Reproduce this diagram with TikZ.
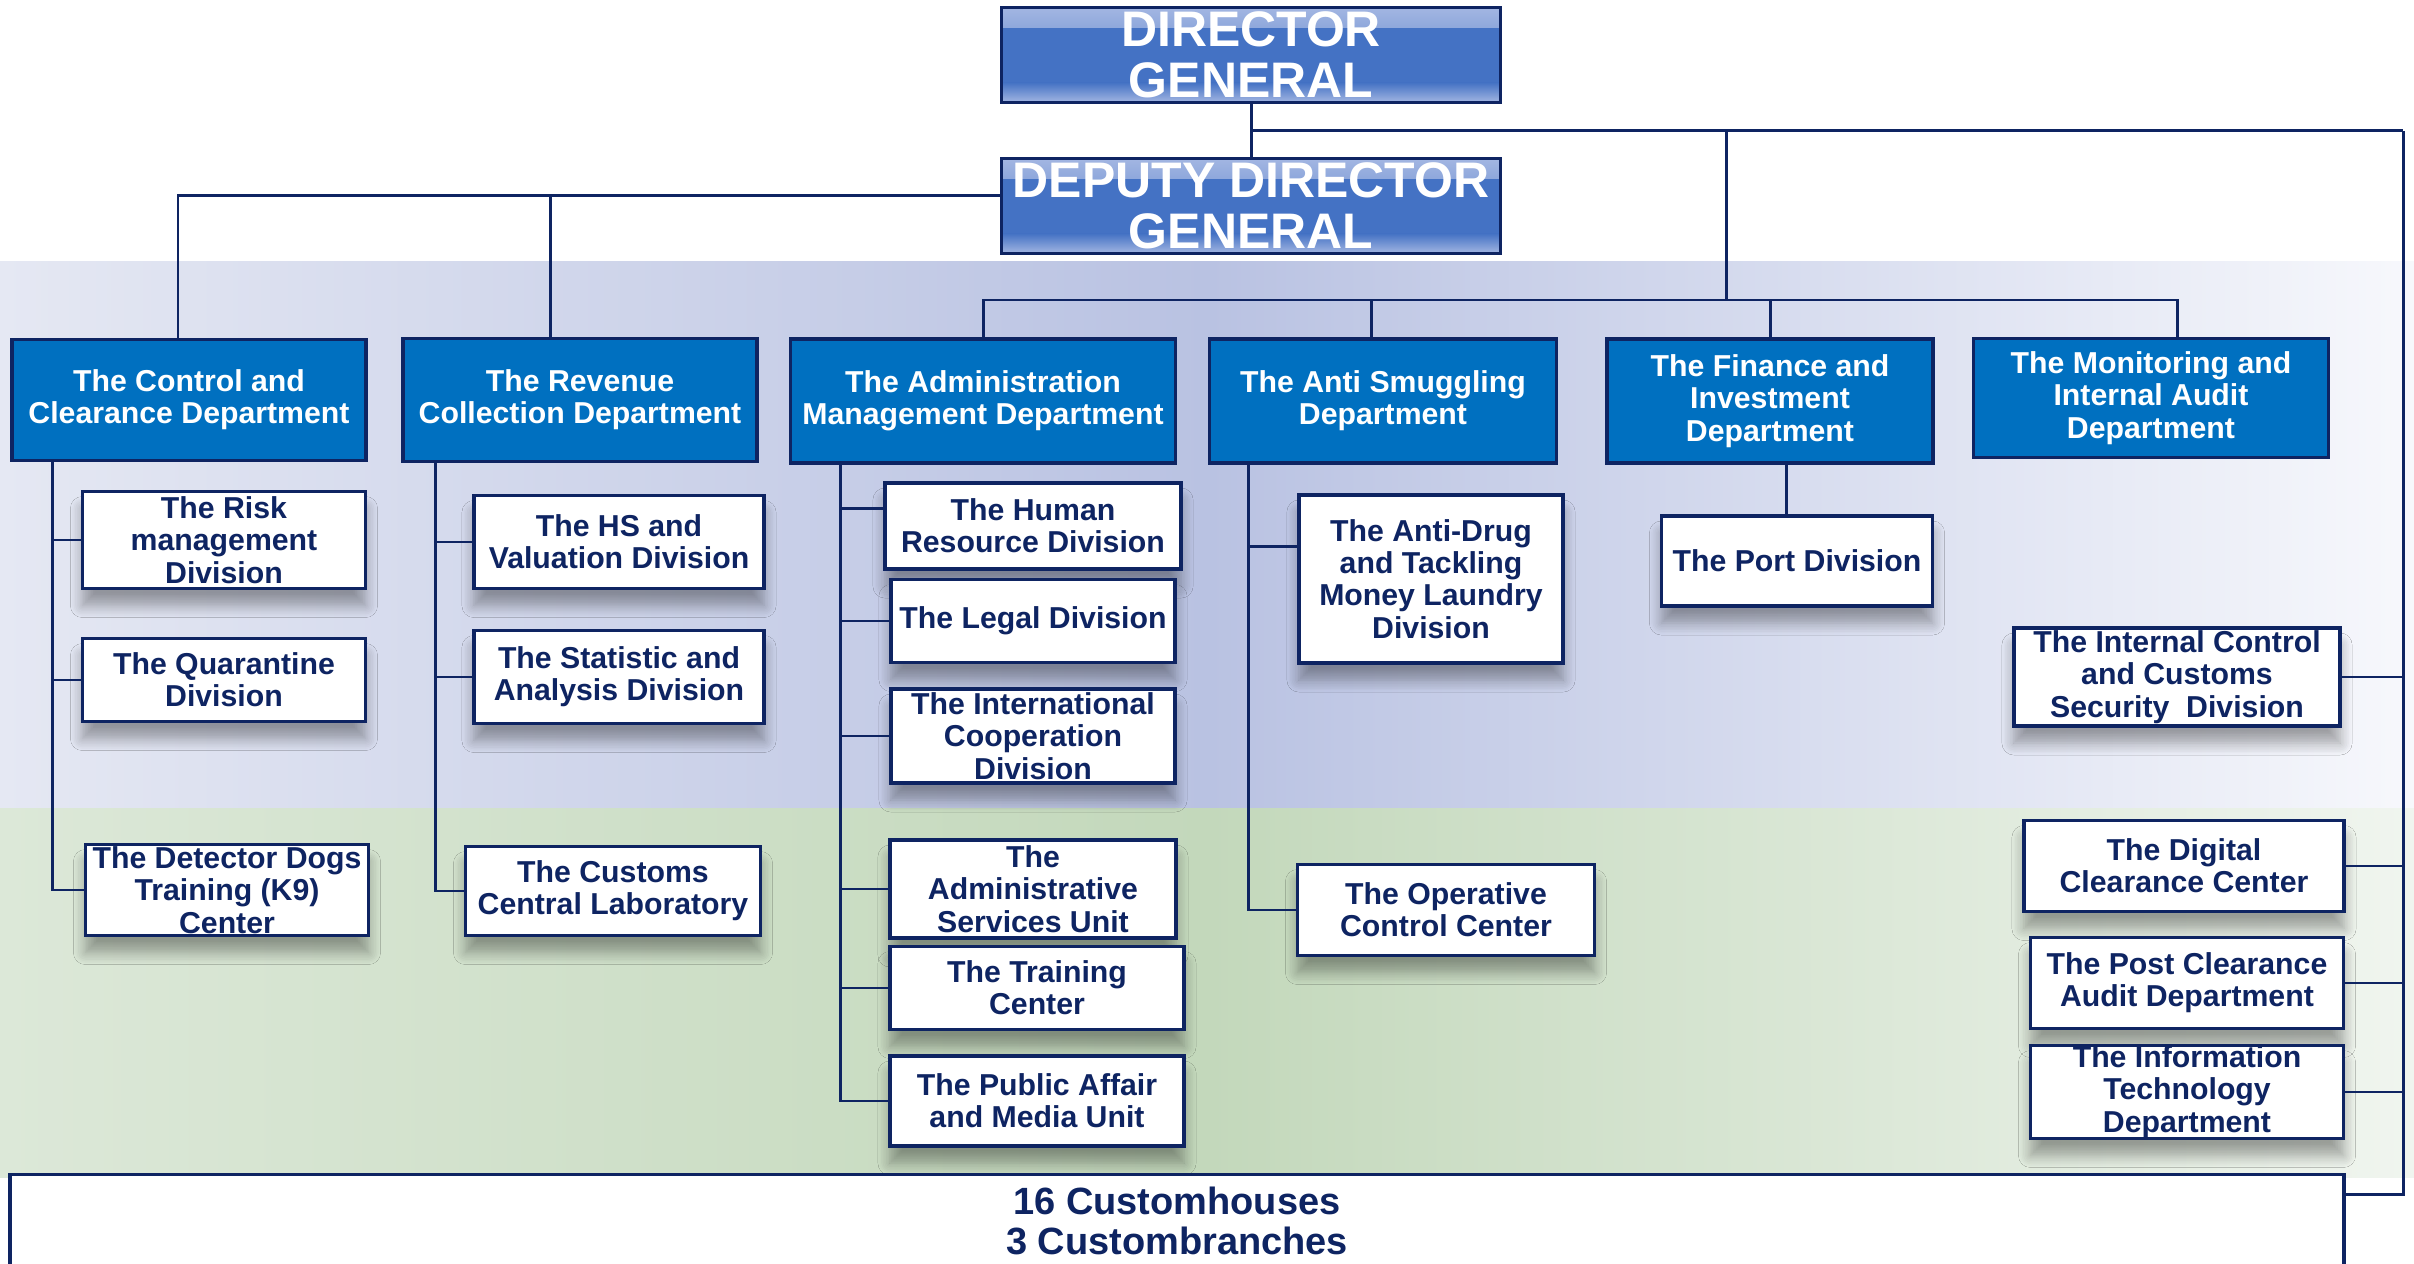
\documentclass[tikz,border=0pt]{standalone}
\usepackage{fontspec}
\setmainfont{Liberation Sans}
\usepackage{tikz}
\usetikzlibrary{shadows.blur}

\definecolor{navy}{HTML}{0E2462}
\definecolor{deptblue}{HTML}{0070C0}
\definecolor{headblue}{HTML}{4472C4}
\definecolor{headedge}{HTML}{A3B6E2}
\definecolor{bandblue}{HTML}{B9C2E2}
\definecolor{bandleft}{HTML}{E5E8F3}
\definecolor{bandright}{HTML}{F7F8FC}
\definecolor{bandgreen}{HTML}{C3D8BB}
\definecolor{greenleft}{HTML}{DCE8D8}
\definecolor{greenright}{HTML}{F0F5EF}

\begin{document}
\begin{tikzpicture}[x=0.01cm, y=-0.01cm,
    link/.style={draw=navy, line width=0.85pt},
    headbox/.style={draw=navy, line width=0.9pt, fill=headblue, text=white,
      font=\fontsize{14.2}{14.6}\selectfont\bfseries, align=center, inner sep=0pt,
      path picture={
        \shade[top color=headedge, bottom color=headblue] (path picture bounding box.north west) rectangle ([yshift=-0.2cm]path picture bounding box.north east);
        \shade[top color=headblue, bottom color=headedge] ([yshift=0.2cm]path picture bounding box.south west) rectangle (path picture bounding box.south east);
      }},
    deptbox/.style={draw=navy, line width=1pt, fill=deptblue, text=white,
      font=\fontsize{8.6}{9.2}\selectfont\bfseries, align=center, inner xsep=1pt, inner ysep=0pt},
    unitbox/.style={draw=navy, line width=1pt, fill=white, text=navy,
      font=\fontsize{8.6}{9.2}\selectfont\bfseries, align=center, inner xsep=1pt, inner ysep=0pt,
      blur shadow={shadow xshift=0pt, shadow yshift=-0.17cm, shadow blur radius=0.12cm, shadow blur steps=8, shadow opacity=35}}]

   \useasboundingbox (0,0) rectangle (2414,1264);

   % background bands
   \shade[left color=bandleft, right color=bandright, middle color=bandblue] (0,262) rectangle (2414,808);
   \shade[left color=greenleft, right color=greenright, middle color=bandgreen] (0,808) rectangle (2414,1177);

   % top
   \draw (1251,55) node[headbox, minimum width=4.98cm, minimum height=0.95cm] (dg) {DIRECTOR\\GENERAL};
   \draw (1251,206) node[headbox, minimum width=4.98cm, minimum height=0.95cm] (ddg) {DEPUTY DIRECTOR\\GENERAL};

   % departments
   \draw (189,400) node[deptbox, minimum width=3.54cm, minimum height=1.21cm] (control) {The Control and\\Clearance Department};
   \draw (580,400) node[deptbox, minimum width=3.54cm, minimum height=1.23cm] (revenue) {The Revenue\\Collection Department};
   \draw (983,401) node[deptbox, minimum width=3.85cm, minimum height=1.24cm] (admin) {The Administration\\Management Department};
   \draw (1383,401) node[deptbox, minimum width=3.47cm, minimum height=1.24cm] (antismug) {The Anti Smuggling\\Department};
   \draw (1770,401) node[deptbox, minimum width=3.26cm, minimum height=1.24cm] (finance) {The Finance and\\Investment\\Department};
   \draw (2151,398) node[deptbox, minimum width=3.55cm, minimum height=1.19cm] (monitor) {The Monitoring and\\Internal Audit\\Department};

   % divisions and units
   \draw (224,540) node[unitbox, minimum width=2.83cm, minimum height=0.97cm] (risk) {The Risk\\management\\Division};
   \draw (224,680) node[unitbox, minimum width=2.83cm, minimum height=0.83cm] (quarantine) {The Quarantine\\Division};
   \draw (227,890) node[unitbox, minimum width=2.83cm, minimum height=0.91cm] (dogs) {The Detector Dogs\\Training (K9)\\Center};

   \draw (619,542) node[unitbox, minimum width=2.90cm, minimum height=0.93cm] (hsval) {The HS and\\Valuation Division};
   \draw (619,677) node[unitbox, minimum width=2.90cm, minimum height=0.93cm] (statistic) {The Statistic and\\Analysis Division};
   \draw (613,891) node[unitbox, minimum width=2.95cm, minimum height=0.89cm] (lab) {The Customs\\Central Laboratory};

   \draw (1033,526) node[unitbox, minimum width=2.96cm, minimum height=0.86cm] (human) {The Human\\Resource Division};
   \draw (1033,621) node[unitbox, minimum width=2.84cm, minimum height=0.83cm] (legal) {The Legal Division};
   \draw (1033,736) node[unitbox, minimum width=2.84cm, minimum height=0.94cm] (intl) {The International\\Cooperation\\Division};
   \draw (1033,889) node[unitbox, minimum width=2.86cm, minimum height=0.98cm] (services) {The\\Administrative\\Services Unit};
   \draw (1037,988) node[unitbox, minimum width=2.94cm, minimum height=0.83cm] (training) {The Training\\Center};
   \draw (1037,1101) node[unitbox, minimum width=2.94cm, minimum height=0.90cm] (media) {The Public Affair\\and Media Unit};

   \draw (1431,579) node[unitbox, minimum width=2.64cm, minimum height=1.68cm] (antidrug) {The Anti-Drug\\and Tackling\\Money Laundry\\Division};
   \draw (1446,910) node[unitbox, minimum width=2.97cm, minimum height=0.91cm] (operative) {The Operative\\Control Center};

   \draw (1797,561) node[unitbox, minimum width=2.71cm, minimum height=0.90cm] (port) {The Port Division};

   \draw (2177,677) node[unitbox, minimum width=3.26cm, minimum height=0.98cm] (internal) {The Internal Control\\and Customs\\Security\ \ Division};
   \draw (2184,866) node[unitbox, minimum width=3.20cm, minimum height=0.91cm] (digital) {The Digital\\Clearance Center};
   \draw (2187,983) node[unitbox, minimum width=3.13cm, minimum height=0.91cm] (postaudit) {The Post Clearance\\Audit Department};
   \draw (2187,1092) node[unitbox, minimum width=3.13cm, minimum height=0.91cm] (infotech) {The Information\\Technology\\Department};

   \draw (1177,1221) node[fill=white, text=navy, font=\fontsize{10.8}{11.4}\selectfont\bfseries, align=center, minimum width=23.31cm, minimum height=0.88cm] (houses) {16 Customhouses\\3 Custombranches};
   \draw[navy, line width=1pt] (houses.south west) -- (houses.north west) -- (houses.north east) -- (houses.south east);

   % buses
   \coordinate (topbus) at (1250,131);
   \coordinate (midbus) at (1726,131);
   \coordinate (rightbus) at (2403,131);
   \coordinate (deptbus) at (1726,300);
   \coordinate (ddgleft) at ([yshift=0.1cm]ddg.west);
   \coordinate (ctrltop) at ([xshift=-0.11cm]control.north);
   \coordinate (revtop) at ([xshift=-0.29cm]revenue.north);
   \coordinate (anttop) at ([xshift=-0.12cm]antismug.north);
   \coordinate (montop) at ([xshift=0.26cm]monitor.north);
   \coordinate (housein) at ([yshift=-0.2cm]houses.north east);

   \draw[link] (dg.south) -- (ddg.north);
   \draw[link] (topbus) -- (rightbus);
   \draw[link] (midbus) -- (deptbus);
   \draw[link] (ddgleft) -| (ctrltop);
   \draw[link] (revtop) -- (revtop |- ddgleft);
   \draw[link] (admin.north) |- (deptbus) -| (montop);
   \draw[link] (anttop) -- (anttop |- deptbus);
   \draw[link] (finance.north) -- (finance.north |- deptbus);

   \draw[link] (rightbus) |- (housein);
   \foreach \n in {internal,digital,postaudit,infotech}
      \draw[link] (\n.east) -- (\n.east -| rightbus);

   % spines
   \coordinate (ctrlspine) at ([xshift=0.42cm]control.south west);
   \draw[link] (ctrlspine) |- (dogs.west);
   \foreach \n in {risk,quarantine}
      \draw[link] (\n.west) -- (\n.west -| ctrlspine);

   \coordinate (revspine) at ([xshift=0.34cm]revenue.south west);
   \draw[link] (revspine) |- (lab.west);
   \foreach \n in {hsval,statistic}
      \draw[link] (\n.west) -- (\n.west -| revspine);

   \coordinate (adminspine) at ([xshift=0.52cm]admin.south west);
   \draw[link] (adminspine) |- (media.west);
   \foreach \n in {legal,intl,services,training}
      \draw[link] (\n.west) -- (\n.west -| adminspine);
   \draw[link] ([yshift=0.17cm]human.west) -- ([yshift=0.17cm]human.west -| adminspine);

   \coordinate (antispine) at ([xshift=0.41cm]antismug.south west);
   \draw[link] (antispine) |- (operative.west);
   \draw[link] ([yshift=0.32cm]antidrug.west) -- ([yshift=0.32cm]antidrug.west -| antispine);

   \draw[link] ([xshift=-0.11cm]port.north) -- ([xshift=-0.11cm]port.north |- finance.south);
\end{tikzpicture}
\end{document}
